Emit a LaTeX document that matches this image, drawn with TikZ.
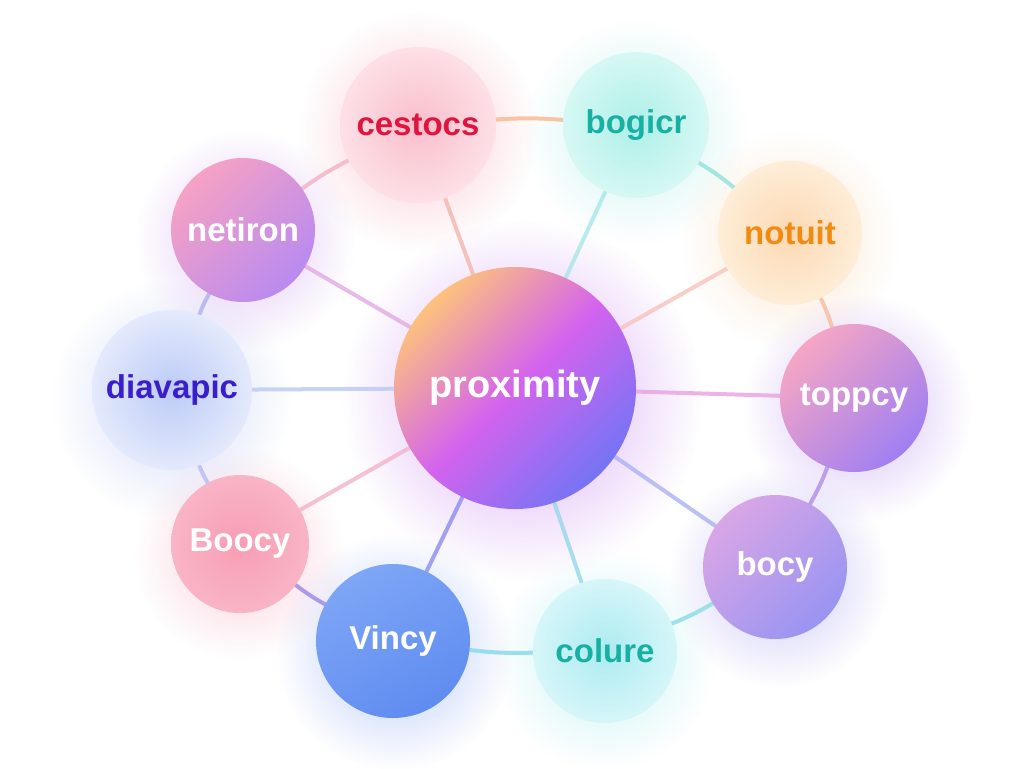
\documentclass[tikz,border=0pt]{standalone}
\usepackage{fontspec}
\setmainfont{Liberation Sans}
\usetikzlibrary{fadings,backgrounds}
\tikzfading[name=glowfade, inner color=transparent!40, outer color=transparent!100]
\definecolor{cRed}{HTML}{E0153F}
\definecolor{cTeal}{HTML}{17B0A3}
\definecolor{cOrange}{HTML}{F08A10}
\definecolor{cIndigo}{HTML}{3A1ECC}
\definecolor{pinkI}{HTML}{F9BECB}
\definecolor{pinkO}{HTML}{FDE0E6}
\definecolor{aquaI}{HTML}{AEEFE8}
\definecolor{aquaO}{HTML}{D6F8F4}
\definecolor{peachI}{HTML}{FCD9B2}
\definecolor{peachO}{HTML}{FEEDD8}
\definecolor{cyanI}{HTML}{ACEBF1}
\definecolor{cyanO}{HTML}{D6F6F9}
\definecolor{blueI}{HTML}{BCCBF7}
\definecolor{blueO}{HTML}{E4EAFC}
\definecolor{pTop}{HTML}{FDC27C}
\definecolor{pMid}{HTML}{D463EE}
\definecolor{pBot}{HTML}{7574F4}
\definecolor{tTop}{HTML}{F6A6C4}
\definecolor{tBot}{HTML}{A07FF2}
\definecolor{bTop}{HTML}{D9A6E6}
\definecolor{bBot}{HTML}{9994F2}
\definecolor{vTop}{HTML}{7EA6F6}
\definecolor{vBot}{HTML}{5F8CF0}
\definecolor{oI}{HTML}{F79DB4}
\definecolor{oO}{HTML}{F9B4C6}
\definecolor{nTop}{HTML}{F6A2C4}
\definecolor{nBot}{HTML}{B98AF0}
% glow colours
\definecolor{gP}{HTML}{C070F0}
\definecolor{gCes}{HTML}{F8A8B8}
\definecolor{gBog}{HTML}{A8EEE8}
\definecolor{gNot}{HTML}{FCD8B0}
\definecolor{gTop}{HTML}{B890F0}
\definecolor{gBoc}{HTML}{A8A0F0}
\definecolor{gCol}{HTML}{A8ECF0}
\definecolor{gVin}{HTML}{8AA8F6}
\definecolor{gBoo}{HTML}{F8B0C4}
\definecolor{gDia}{HTML}{B8C6F6}
\definecolor{gNet}{HTML}{D0A0F0}
% link colours
\definecolor{lA}{HTML}{F4B0C4}
\definecolor{lB}{HTML}{F8B890}
\definecolor{lC}{HTML}{8EE2DC}
\definecolor{lD}{HTML}{F6BC9E}
\definecolor{lE}{HTML}{B08CEA}
\definecolor{lF}{HTML}{86DCE6}
\definecolor{lG}{HTML}{84D8EA}
\definecolor{lH}{HTML}{9D84EA}
\definecolor{lI}{HTML}{B8BCF2}
\definecolor{lJ}{HTML}{AEB0F0}
\definecolor{sA}{HTML}{F2B6AC}
\definecolor{sB}{HTML}{A8E6EA}
\definecolor{sC}{HTML}{F8C2BC}
\definecolor{sD}{HTML}{E6A2E2}
\definecolor{sE}{HTML}{AAB2F2}
\definecolor{sF}{HTML}{94D8EA}
\definecolor{sG}{HTML}{8C8CF0}
\definecolor{sH}{HTML}{F4B2CA}
\definecolor{sI}{HTML}{BAC8F4}
\definecolor{sJ}{HTML}{E2AAE2}
\tikzset{
  bub/.style={circle, inner sep=0pt, font=\bfseries\fontsize{33}{33}\selectfont},
  link/.style={line width=4pt, line cap=round, opacity=0.8},
  ring/.style={link, bend left=4},
  halo/.style={path fading=glowfade},
}
\begin{document}
\begin{tikzpicture}[x=1pt,y=-1pt]
\useasboundingbox (0,0) rectangle (1024,768);
% nodes
\node[bub, minimum size=242pt, top color=pTop, bottom color=pBot, middle color=pMid, shading angle=45, text=white, font=\bfseries\fontsize{38}{38}\selectfont] (P) at (515,388) {proximity};
\node[bub, minimum size=156pt, inner color=pinkI, outer color=pinkO, text=cRed] (ces) at (418,125) {cestocs};
\node[bub, minimum size=146pt, inner color=aquaI, outer color=aquaO, text=cTeal] (bog) at (636,125) {bogicr};
\node[bub, minimum size=144pt, inner color=peachI, outer color=peachO, text=cOrange] (not) at (790,233) {notuit};
\node[bub, minimum size=148pt, top color=tTop, bottom color=tBot, shading angle=45, text=white] (top) at (854,398) {toppcy};
\node[bub, minimum size=144pt, top color=bTop, bottom color=bBot, shading angle=45, text=white] (boc) at (775,567) {bocy};
\node[bub, minimum size=144pt, inner color=cyanI, outer color=cyanO, text=cTeal] (col) at (605,651) {colure};
\node[bub, minimum size=154pt, top color=vTop, bottom color=vBot, shading angle=30, text=white] (vin) at (393,641) {Vincy};
\node[bub, minimum size=138pt, inner color=oI, outer color=oO, text=white] (boo) at (240,544) {Boocy};
\node[bub, minimum size=160pt, inner color=blueI, outer color=blueO, text=cIndigo] (dia) at (172,390) {diavapic};
\node[bub, minimum size=144pt, top color=nTop, bottom color=nBot, shading angle=45, text=white] (net) at (243,230) {netiron};
\begin{scope}[on background layer]
  \fill[white] (0,0) rectangle (1024,768);
  % glows
  \fill[halo, color=gP] (522,400) circle (180);
  \fill[halo, color=gCes] (418,132) circle (120);
  \fill[halo, color=gBog] (636,132) circle (112);
  \fill[halo, color=gNot] (790,240) circle (110);
  \fill[halo, color=gTop] (858,408) circle (114);
  \fill[halo, color=gBoc] (779,577) circle (110);
  \fill[halo, color=gCol] (605,660) circle (110);
  \fill[halo, color=gVin] (395,652) circle (118);
  \fill[halo, color=gBoo] (240,554) circle (106);
  \fill[halo, color=gDia] (172,400) circle (120);
  \fill[halo, color=gNet] (245,240) circle (110);
  % ring links
  \draw[ring, color=lA] (net) to (ces);
  \draw[ring, color=lB] (ces) to (bog);
  \draw[ring, color=lC] (bog) to (not);
  \draw[ring, color=lD] (not) to (top);
  \draw[ring, color=lE] (top) to (boc);
  \draw[ring, color=lF] (boc) to (col);
  \draw[ring, color=lG] (col) to (vin);
  \draw[ring, color=lH] (vin) to (boo);
  \draw[ring, color=lI] (boo) to (dia);
  \draw[ring, color=lJ] (dia) to (net);
  % spokes
  \draw[link, color=sA] (P) -- (ces);
  \draw[link, color=sB] (P) -- (bog);
  \draw[link, color=sC] (P) -- (not);
  \draw[link, color=sD] (P) -- (top);
  \draw[link, color=sE] (P) -- (boc);
  \draw[link, color=sF] (P) -- (col);
  \draw[link, color=sG] (P) -- (vin);
  \draw[link, color=sH] (P) -- (boo);
  \draw[link, color=sI] (P) -- (dia);
  \draw[link, color=sJ] (P) -- (net);
\end{scope}
\end{tikzpicture}
\end{document}
